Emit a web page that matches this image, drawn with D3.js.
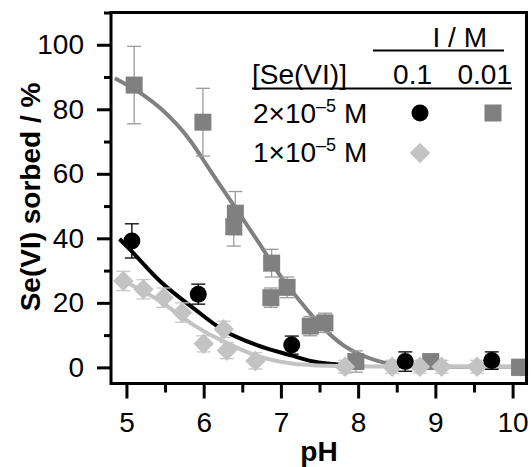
<!DOCTYPE html>
<html>
<head>
<meta charset="utf-8">
<script src="https://cdn.jsdelivr.net/npm/d3@7/dist/d3.min.js"></script>
<style>
html,body{margin:0;padding:0;background:#fff;}
svg{display:block;}
text{font-family:"Liberation Sans",Arial,Helvetica,sans-serif;}
</style>
</head>
<body>
<svg id="chart" width="531" height="467"></svg>
<script>
// ---- data ----
// 0.01 M, [Se(VI)] = 2e-5 M (grey squares)
const sqPH  = [5.10, 5.99, 6.41, 6.39, 6.88, 6.87, 7.08, 7.38, 7.57, 7.97, 8.94, 10.09];
const sqVal = [87.5, 76.0, 47.8, 43.6, 32.3, 21.6, 24.8, 12.8, 13.8, 1.8, 1.8, 0.0];
const sqErr = [12.0, 10.5, 6.7, 6.0, 4.3, 3.0, 3.2, 3.0, 3.0, 3.3, 2.2, 2.5];
// 0.1 M, 2e-5 M (black circles)
const ciPH  = [5.07, 5.93, 7.14, 8.61, 9.73];
const ciVal = [39.2, 22.7, 6.9, 1.8, 2.1];
const ciErr = [5.3, 3.1, 2.8, 3.0, 2.7];
// 0.1 M, 1e-5 M (light grey diamonds)
const diPH  = [4.96, 5.22, 5.48, 5.72, 6.00, 6.26, 6.30, 6.67, 7.83, 8.44, 8.80, 9.08, 9.54];
const diVal = [26.8, 24.2, 21.6, 17.0, 7.3, 11.8, 5.2, 2.0, 0.2, 0.2, 0.2, 0.2, 0.2];
const diErr = [3.0, 3.0, 3.0, 3.0, 2.5, 2.5, 2.5, 2.5, 2.0, 2.0, 2.0, 2.0, 2.0];
// fitted curves
const fitSqPH  = [4.85, 5.22, 5.44, 5.82, 6.08, 6.30, 6.69, 7.03, 7.30, 7.55, 7.80, 8.00, 8.30, 8.60, 9.00, 10.10];
const fitSqVal = [89.6, 84.4, 80.3, 70.5, 61.2, 53.4, 39.5, 27.1, 19.0, 12.2, 7.0, 4.3, 1.7, 0.4, 0.2, 0.2];
const fitCiPH  = [4.91, 5.05, 5.44, 5.87, 6.25, 6.69, 7.12, 7.42, 7.81, 8.00];
const fitCiVal = [39.8, 36.4, 26.6, 18.3, 11.6, 6.9, 3.8, 1.8, 0.8, 0.6];
const fitDiPH  = [4.90, 5.44, 5.87, 6.30, 6.73, 7.12, 7.60, 8.20, 10.10];
const fitDiVal = [27.6, 20.4, 13.1, 7.5, 3.3, 1.3, 0.5, 0.3, 0.2];
// axes
const xTicks = [5, 6, 7, 8, 9, 10];
const xMinor = [5.5, 6.5, 7.5, 8.5, 9.5];
const yTicks = [0, 20, 40, 60, 80, 100];
const yMinor = [10, 30, 50, 70, 90, 110];
const xTitle = "pH";
const yTitle = "Se(VI) sorbed / %";

// ---- drawing ----
const svg = d3.select("#chart");
const x = d3.scaleLinear().domain([4.8, 10.18]).range([111, 526.5]);
const y = d3.scaleLinear().domain([-5, 110]).range([383.5, 12.5]);
const FONT = 28;
const cSq = "#808080", cSqErr = "#9a9a9a", cDi = "#c3c3c3", cDiErr = "#c8c8c8";

// axes with ticks
const xAxis = d3.axisBottom(x).tickValues(xTicks).tickSize(15).tickPadding(14).tickFormat(d3.format("d"));
const xAxisMinor = d3.axisBottom(x).tickValues(xMinor).tickSize(9).tickFormat("");
const yAxis = d3.axisLeft(y).tickValues(yTicks).tickSize(14).tickPadding(13).tickFormat(d3.format("d"));
const yAxisMinor = d3.axisLeft(y).tickValues(yMinor).tickSize(7).tickFormat("");

function styleAxis(g){
  g.select(".domain").remove();
  g.selectAll(".tick line").attr("stroke","#000").attr("stroke-width",3);
  g.selectAll(".tick text").attr("font-size",FONT).attr("fill","#000")
    .style("font-family",'"Liberation Sans",Arial,sans-serif');
}
svg.append("g").attr("transform",`translate(0,${y.range()[0]})`).call(xAxis).call(styleAxis);
svg.append("g").attr("transform",`translate(0,${y.range()[0]})`).call(xAxisMinor).call(styleAxis);
svg.append("g").attr("transform",`translate(${x.range()[0]},0)`).call(yAxis).call(styleAxis);
svg.append("g").attr("transform",`translate(${x.range()[0]},0)`).call(yAxisMinor).call(styleAxis);

// fitted curves
const line = d3.line().x(d=>x(d[0])).y(d=>y(d[1])).curve(d3.curveMonotoneX);
const zip = (a,b)=>a.map((v,i)=>[v,b[i]]);
svg.append("path").attr("d",line(zip(fitSqPH,fitSqVal))).attr("fill","none").attr("stroke",cSq).attr("stroke-width",4);
svg.append("path").attr("d",line(zip(fitCiPH,fitCiVal))).attr("fill","none").attr("stroke","#000").attr("stroke-width",4);
svg.append("path").attr("d",line(zip(fitDiPH,fitDiVal))).attr("fill","none").attr("stroke",cDi).attr("stroke-width",4);

// error bars
function errBars(ph, val, err, color){
  const g = svg.append("g").attr("stroke",color).attr("stroke-width",1.3).attr("fill","none");
  ph.forEach((p,i)=>{
    const cx = x(p), y1 = y(val[i]+err[i]), y2 = y(val[i]-err[i]);
    g.append("line").attr("x1",cx).attr("x2",cx).attr("y1",y1).attr("y2",y2);
    g.append("line").attr("x1",cx-7).attr("x2",cx+7).attr("y1",y1).attr("y2",y1);
    g.append("line").attr("x1",cx-7).attr("x2",cx+7).attr("y1",y2).attr("y2",y2);
  });
}
errBars(sqPH, sqVal, sqErr, cSqErr);
errBars(diPH, diVal, diErr, cDiErr);
errBars(ciPH, ciVal, ciErr, "#000");

// markers
const sqSize = 17;
svg.append("g").selectAll("rect").data(zip(sqPH,sqVal)).join("rect")
  .attr("x",d=>x(d[0])-sqSize/2).attr("y",d=>y(d[1])-sqSize/2)
  .attr("width",sqSize).attr("height",sqSize).attr("fill",cSq);
const diamond = d3.symbol().type(d3.symbolSquare).size(210);
svg.append("g").selectAll("path").data(zip(diPH,diVal)).join("path")
  .attr("d",diamond).attr("transform",d=>`translate(${x(d[0])},${y(d[1])}) rotate(45)`).attr("fill",cDi);
svg.append("g").selectAll("circle").data(zip(ciPH,ciVal)).join("circle")
  .attr("cx",d=>x(d[0])).attr("cy",d=>y(d[1])).attr("r",8.5).attr("fill","#000");

// frame
svg.append("rect").attr("x",x.range()[0]).attr("y",y.range()[1])
  .attr("width",x.range()[1]-x.range()[0]).attr("height",y.range()[0]-y.range()[1])
  .attr("fill","none").attr("stroke","#000").attr("stroke-width",3);

// axis titles
svg.append("text").attr("x",319).attr("y",461).attr("text-anchor","middle")
  .attr("font-size",FONT).attr("font-weight","bold").text(xTitle);
svg.append("text").attr("transform","translate(40,197) rotate(-90)").attr("text-anchor","middle")
  .attr("font-size",FONT).attr("font-weight","bold").text(yTitle);

// legend
const lg = svg.append("g").attr("font-size",FONT).attr("fill","#000");
lg.append("text").attr("x",487).attr("y",47).attr("text-anchor","end").text("I / M");
lg.append("line").attr("x1",373).attr("x2",504).attr("y1",50.5).attr("y2",50.5).attr("stroke","#000").attr("stroke-width",2);
lg.append("text").attr("x",252).attr("y",84).text("[Se(VI)]");
lg.append("text").attr("x",432).attr("y",84).attr("text-anchor","end").text("0.1");
lg.append("text").attr("x",512).attr("y",84).attr("text-anchor","end").text("0.01");
lg.append("line").attr("x1",252).attr("x2",512).attr("y1",88.5).attr("y2",88.5).attr("stroke","#000").attr("stroke-width",2);
function concLabel(yb, mant){
  const t = lg.append("text").attr("x",253).attr("y",yb);
  t.append("tspan").text(mant+"×10");
  t.append("tspan").attr("dy",-11).attr("font-size",18).text("–5");
  t.append("tspan").attr("dy",11).text(" M");
}
concLabel(123, "2");
concLabel(162, "1");
lg.append("circle").attr("cx",420).attr("cy",113).attr("r",8.5).attr("fill","#000");
lg.append("rect").attr("x",493-sqSize/2).attr("y",113-sqSize/2).attr("width",sqSize).attr("height",sqSize).attr("fill",cSq);
lg.append("path").attr("d",diamond).attr("transform","translate(420,153) rotate(45)").attr("fill",cDi);
</script>
</body>
</html>
